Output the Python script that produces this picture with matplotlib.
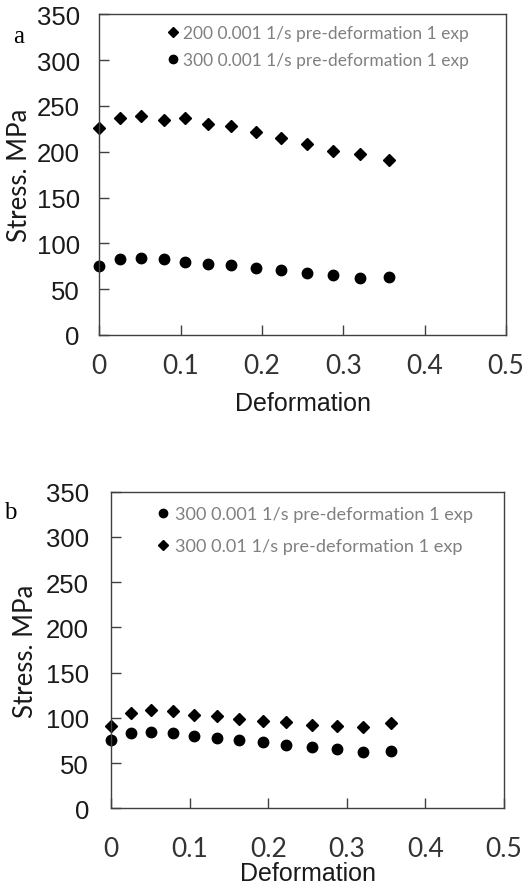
import numpy as np
import matplotlib
matplotlib.use("Agg")
import matplotlib.pyplot as plt

# strain points (same for every test)
strain = [0.0, 0.025, 0.051, 0.079, 0.105, 0.134, 0.162, 0.193, 0.223, 0.255, 0.288, 0.321, 0.356]

# 200 C, 0.001 1/s
stress_200_0001 = [225.5, 237, 238.5, 235, 237, 230.5, 228.5, 221.5, 214.5, 208, 201, 197, 191]
# 300 C, 0.001 1/s
stress_300_0001 = [75, 83, 84.5, 83, 80, 78, 76, 73, 70.5, 67.5, 65, 62, 63.5]
# 300 C, 0.01 1/s
stress_300_001 = [91.5, 105.5, 108.5, 107, 103, 101.5, 99, 97, 95.5, 92.5, 91, 89.5, 94]

label_200_0001 = "200 0.001 1/s pre-deformation 1 exp"
label_300_0001 = "300 0.001 1/s pre-deformation 1 exp"
label_300_001 = "300 0.01 1/s pre-deformation 1 exp"

yticks = [0, 50, 100, 150, 200, 250, 300, 350]
xticks = [0, 0.1, 0.2, 0.3, 0.4, 0.5]
xticklabels = ["0", "0.1", "0.2", "0.3", "0.4", "0.5"]

arial = "Liberation Sans"
calibri = "Lato"
spine_col = "#404040"

fig = plt.figure(figsize=(5.28, 8.87), dpi=100)
ax1 = fig.add_axes([0.188, 0.6212, 0.770, 0.3616])
ax2 = fig.add_axes([0.2108, 0.0876, 0.7437, 0.3570])


def style(ax, ypad, xpad, xlabelpad, ylabelpad):
    ax.set_xlim(0, 0.5)
    ax.set_ylim(0, 350)
    ax.set_xticks(xticks)
    ax.set_xticklabels(xticklabels, fontfamily=calibri, fontsize=19, color="#333333")
    ax.set_yticks(yticks)
    ax.set_yticklabels([str(v) for v in yticks], fontfamily=arial, fontsize=18.5, color="#1a1a1a")
    ax.tick_params(axis="both", direction="in", length=7, width=1.0, color=spine_col)
    ax.tick_params(axis="y", pad=ypad)
    ax.tick_params(axis="x", pad=xpad)
    for s in ax.spines.values():
        s.set_color(spine_col)
        s.set_linewidth(1.0)
    ax.set_xlabel("Deformation", fontfamily=arial, fontsize=18, color="#1a1a1a",
                  labelpad=xlabelpad)
    ax.set_ylabel("Stress. MPa", fontfamily=calibri, fontsize=18.5, color="#1a1a1a",
                  labelpad=ylabelpad)


# panel a
ax1.plot(strain, stress_200_0001, linestyle="none", marker="D", markersize=6.2,
         color="black", label=label_200_0001, clip_on=False)
ax1.plot(strain, stress_300_0001, linestyle="none", marker="o", markersize=7.5,
         color="black", label=label_300_0001, clip_on=False)
style(ax1, 14, 13, 9, 3.5)
ax1.legend(loc="upper left", bbox_to_anchor=(0.17, 0.965), frameon=False,
           prop={"family": calibri, "size": 12.5}, labelcolor="#808080",
           handlelength=0.5, handletextpad=0.35, labelspacing=0.62,
           borderpad=0, borderaxespad=0, markerscale=0.8)

# panel b
ax2.plot(strain, stress_300_0001, linestyle="none", marker="o", markersize=7.5,
         color="black", label=label_300_0001, clip_on=False)
ax2.plot(strain, stress_300_001, linestyle="none", marker="D", markersize=6.2,
         color="black", label=label_300_001, clip_on=False)
style(ax2, 16, 20, 0, 6)
ax2.legend(loc="upper left", bbox_to_anchor=(0.12, 0.955), frameon=False,
           prop={"family": calibri, "size": 13.1}, labelcolor="#808080",
           handlelength=0.5, handletextpad=0.4, labelspacing=0.9,
           borderpad=0, borderaxespad=0, markerscale=0.8)

fig.text(0.036, 1 - 37 / 887, "a", fontfamily="Liberation Serif", fontsize=18,
         ha="center", va="center")
fig.text(0.019, 1 - 513 / 887, "b", fontfamily="Liberation Serif", fontsize=18,
         ha="center", va="center")

fig.savefig("out.png", dpi=100)
